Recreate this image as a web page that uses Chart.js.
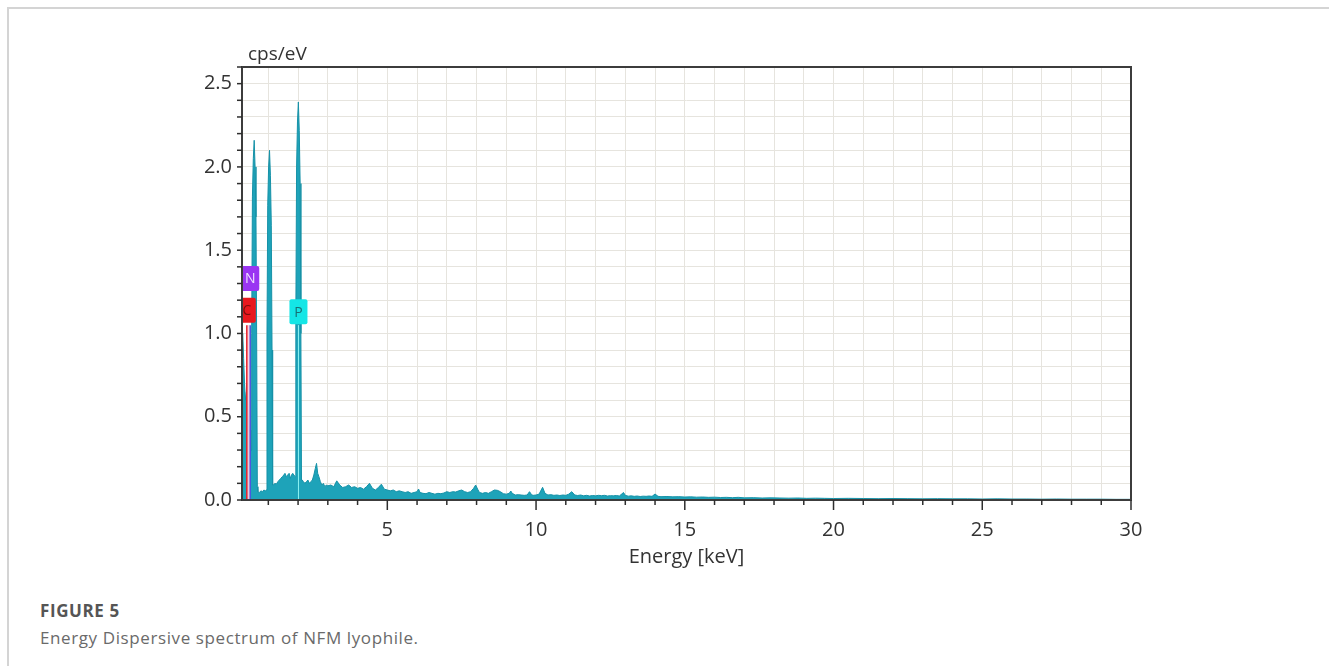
<!DOCTYPE html>
<html>
<head>
<meta charset="utf-8">
<title>Energy Dispersive spectrum of NFM lyophile</title>
<script src="https://cdn.jsdelivr.net/npm/chart.js@4.4.0/dist/chart.umd.min.js"></script>
<style>
  html, body { margin: 0; padding: 0; background: #fff; }
  body { width: 1329px; height: 666px; position: relative; overflow: hidden; font-family: 'Open Sans', sans-serif; }
  .frame { position: absolute; left: 7px; top: 7px; right: 0; bottom: 0; border-top: 2px solid #d4d4d4; border-left: 2px solid #d4d4d4; }
  #chart-box { position: absolute; left: 0; top: 0; width: 1329px; height: 580px; }
  .caption { position: absolute; left: 40px; top: 597px; color: #6a6a6a; font-size: 17px; letter-spacing: 0.6px; line-height: 27px; }
  .caption b { display: block; color: #555; font-weight: 700; }
</style>
</head>
<body>
<div class="frame"></div>
<div id="chart-box"><canvas id="eds-chart" width="1329" height="580"></canvas></div>
<div class="caption"><b>FIGURE 5</b>Energy Dispersive spectrum of NFM lyophile.</div>

<script>
// Spectrum (energy in keV, counts in cps/eV)
const energy = [
    0.11, 0.14, 0.17, 0.20, 0.23, 0.26, 0.28, 0.31, 0.34, 0.37, 0.39, 0.41,
    0.42, 0.44, 0.465, 0.495, 0.525, 0.555, 0.585, 0.61, 0.63,
    0.65, 0.70, 0.75, 0.80, 0.85, 0.90, 0.935,
    0.955, 0.98, 1.01, 1.04, 1.07, 1.10, 1.125, 1.145,
    1.17, 1.22, 1.27, 1.32, 1.37, 1.42, 1.47, 1.52, 1.56, 1.60, 1.65, 1.70, 1.74, 1.78, 1.82, 1.86, 1.905,
    1.925, 1.95, 1.98, 2.01, 2.04, 2.07, 2.095, 2.115,
    2.14, 2.18, 2.23, 2.28, 2.33, 2.38, 2.43, 2.48, 2.53, 2.58, 2.62, 2.66, 2.70, 2.75, 2.80, 2.85, 2.90, 2.95,
    3.0, 3.1, 3.2, 3.3, 3.4, 3.5, 3.6, 3.7, 3.8, 3.9, 4.0, 4.1, 4.2, 4.3, 4.4, 4.5, 4.6, 4.7, 4.8, 4.9,
    5.0, 5.1, 5.2, 5.3, 5.4, 5.5, 5.6, 5.7, 5.8, 5.9,
    6.0, 6.05, 6.1, 6.2, 6.3, 6.4, 6.5, 6.6, 6.7, 6.8, 6.9,
    7.0, 7.1, 7.2, 7.3, 7.4, 7.5, 7.6, 7.7, 7.8, 7.9, 7.97, 8.05,
    8.1, 8.2, 8.3, 8.4, 8.5, 8.6, 8.7, 8.8, 8.9, 9.0, 9.1, 9.15, 9.2, 9.3, 9.4, 9.5, 9.6, 9.7, 9.78, 9.85, 9.9,
    10.0, 10.1, 10.22, 10.3, 10.4, 10.5, 10.6, 10.7, 10.8, 10.9,
    11.0, 11.1, 11.2, 11.3, 11.4, 11.5, 11.6, 11.7, 11.8, 11.9,
    12.0, 12.1, 12.2, 12.3, 12.4, 12.5, 12.6, 12.7, 12.8, 12.94,
    13.0, 13.1, 13.2, 13.3, 13.4, 13.5, 13.6, 13.7, 13.8, 13.9,
    14.0, 14.1, 14.2, 14.4, 14.6, 14.8, 15.0, 15.2, 15.4, 15.6, 15.8,
    16.0, 16.2, 16.4, 16.6, 16.8, 17.0, 17.3, 17.6, 17.9, 18.2, 18.5, 18.8, 19.1, 19.4, 19.7,
    20.0, 20.5, 21.0, 21.5, 22.0, 22.5, 23.0, 23.5, 24.0, 24.5,
    25.0, 25.5, 26.0, 26.5, 27.0, 27.5, 28.0, 28.5, 29.0, 29.5, 30.0
];
const cps = [
    0.95, 1.00, 0.85, 0.70, 0.60, 0.65, 0.70, 0.55, 0.45, 0.40, 0.42, 0.30,
    0.30, 1.00, 1.82, 2.05, 2.16, 2.00, 1.70, 0.90, 0.08,
    0.05, 0.045, 0.055, 0.05, 0.06, 0.055, 0.06,
    1.00, 1.77, 2.00, 2.10, 1.95, 1.65, 0.90, 0.09,
    0.09, 0.10, 0.095, 0.11, 0.12, 0.13, 0.14, 0.15, 0.16, 0.14, 0.15, 0.16, 0.13, 0.15, 0.16, 0.15, 0.14,
    1.10, 2.00, 2.27, 2.39, 2.22, 1.90, 1.00, 0.12,
    0.12, 0.11, 0.10, 0.11, 0.12, 0.10, 0.11, 0.12, 0.15, 0.19, 0.22, 0.16, 0.14, 0.11, 0.09, 0.10, 0.08, 0.09,
    0.085, 0.09, 0.08, 0.115, 0.09, 0.075, 0.08, 0.09, 0.075, 0.08, 0.07, 0.075, 0.065, 0.08, 0.10, 0.07, 0.06, 0.075, 0.095, 0.065,
    0.06, 0.055, 0.06, 0.05, 0.055, 0.05, 0.045, 0.05, 0.04, 0.045,
    0.05, 0.066, 0.045, 0.04, 0.038, 0.045, 0.04, 0.035, 0.04, 0.038, 0.042,
    0.05, 0.045, 0.05, 0.048, 0.055, 0.06, 0.05, 0.045, 0.05, 0.07, 0.09, 0.06,
    0.045, 0.04, 0.045, 0.04, 0.05, 0.06, 0.058, 0.05, 0.038, 0.035, 0.04, 0.054, 0.04, 0.03, 0.032, 0.03, 0.028, 0.03, 0.05, 0.032, 0.028,
    0.03, 0.035, 0.076, 0.04, 0.03, 0.032, 0.028, 0.03, 0.027, 0.03,
    0.028, 0.035, 0.05, 0.03, 0.027, 0.03, 0.025, 0.028, 0.024, 0.027,
    0.025, 0.028, 0.026, 0.028, 0.024, 0.026, 0.025, 0.027, 0.024, 0.045,
    0.028, 0.023, 0.025, 0.022, 0.024, 0.021, 0.023, 0.022, 0.024, 0.022,
    0.036, 0.022, 0.02, 0.021, 0.019, 0.02, 0.018, 0.019, 0.017, 0.018, 0.016,
    0.017, 0.015, 0.016, 0.014, 0.016, 0.013, 0.014, 0.012, 0.013, 0.012, 0.011, 0.012, 0.01, 0.011, 0.01,
    0.009, 0.01, 0.009, 0.008, 0.009, 0.008, 0.007, 0.008, 0.007, 0.007,
    0.006, 0.007, 0.006, 0.006, 0.005, 0.006, 0.005, 0.005, 0.005, 0.004, 0.004
];

// Axis labels
const xMajorTicks = [5, 10, 15, 20, 25, 30];
const yTickLabels = ['0.0', '0.5', '1.0', '1.5', '2.0', '2.5'];

// Element markers
const elementNames = ['C', 'N', 'P'];
const elementEnergy = [0.277, 0.392, 2.013];

// look of the marker boxes (level = box centre, in cps/eV)
const markerLook = {
    C: { fill: '#e8181e', text: '#7d0c0c', line: '#e8202a', level: 1.14 },
    N: { fill: '#9a35f2', text: '#efe2ff', line: '#4a55e0', level: 1.33 },
    P: { fill: '#14e6e6', text: '#176f74', line: '#8ff3f3', level: 1.13 }
};
const markerTop = 1.05;

const edsPlugin = {
    id: 'edsDecor',
    afterDatasetsDraw(chart) {
        const { ctx, chartArea } = chart;
        const x = chart.scales.x, y = chart.scales.y;
        const y0 = y.getPixelForValue(0);
        const yTop = y.getPixelForValue(markerTop);

        ctx.save();
        ctx.beginPath();
        ctx.rect(chartArea.left, chartArea.top, chartArea.right - chartArea.left, chartArea.bottom - chartArea.top);
        ctx.clip();

        // pink band between the C and N marker lines
        const xc = x.getPixelForValue(elementEnergy[0]);
        const xn = x.getPixelForValue(elementEnergy[1]);
        ctx.fillStyle = 'rgba(248, 206, 222, 0.92)';
        ctx.fillRect(xc, yTop, xn - xc, y0 - yTop);

        elementNames.forEach((name, i) => {
            const look = markerLook[name];
            const px = x.getPixelForValue(elementEnergy[i]);
            ctx.strokeStyle = look.line;
            ctx.lineWidth = name === 'P' ? 1 : 1.5;
            ctx.beginPath();
            ctx.moveTo(px, y0);
            ctx.lineTo(px, yTop);
            ctx.stroke();
        });

        // label boxes
        elementNames.forEach((name, i) => {
            const look = markerLook[name];
            const px = x.getPixelForValue(elementEnergy[i]);
            const py = y.getPixelForValue(look.level);
            const w = 18, h = 25;
            ctx.fillStyle = look.fill;
            ctx.beginPath();
            ctx.roundRect(px - w / 2, py - h / 2, w, h, 2);
            ctx.fill();
            ctx.fillStyle = look.text;
            ctx.font = "14px 'Open Sans', sans-serif";
            ctx.textAlign = 'center';
            ctx.textBaseline = 'middle';
            ctx.fillText(name, px, py + 1);
        });
        ctx.restore();
    },
    afterDraw(chart) {
        const { ctx, chartArea } = chart;
        const x = chart.scales.x, y = chart.scales.y;
        ctx.save();

        // frame
        ctx.strokeStyle = '#3c3c3c';
        ctx.lineWidth = 2;
        ctx.strokeRect(chartArea.left, chartArea.top, chartArea.right - chartArea.left, chartArea.bottom - chartArea.top);

        // tick marks, outside
        ctx.lineWidth = 1.5;
        ctx.strokeStyle = '#2e2e2e';
        x.ticks.forEach(t => {
            const px = x.getPixelForValue(t.value);
            const len = xMajorTicks.includes(t.value) ? 10 : 5;
            ctx.beginPath();
            ctx.moveTo(px, chartArea.bottom);
            ctx.lineTo(px, chartArea.bottom + len);
            ctx.stroke();
        });
        y.ticks.forEach(t => {
            const py = y.getPixelForValue(t.value);
            ctx.beginPath();
            ctx.moveTo(chartArea.left - 5, py);
            ctx.lineTo(chartArea.left, py);
            ctx.stroke();
        });

        // unit above the y axis
        ctx.fillStyle = '#333';
        ctx.font = "19px 'Open Sans', sans-serif";
        ctx.textAlign = 'left';
        ctx.textBaseline = 'alphabetic';
        ctx.fillText('cps/eV', chartArea.left + 6, chartArea.top - 7);
        ctx.restore();
    }
};

const points = energy.map((e, i) => ({ x: e, y: cps[i] }));

window.addEventListener('load', () => {
    const ctx = document.getElementById('eds-chart').getContext('2d');

    new Chart(ctx, {
        type: 'line',
        data: {
            datasets: [{
                data: points,
                borderColor: '#1691a7',
                backgroundColor: '#1ea3b9',
                borderWidth: 1,
                fill: 'origin',
                pointRadius: 0,
                tension: 0
            }]
        },
        options: {
            responsive: false,
            animation: false,
            layout: { padding: { left: 172, right: 198, top: 67, bottom: 5 } },
            plugins: { legend: { display: false }, tooltip: { enabled: false } },
            scales: {
                x: {
                    type: 'linear',
                    min: 0.115,
                    max: 30,
                    afterBuildTicks: scale => {
                        const t = [];
                        for (let v = 1; v <= 30; v++) t.push({ value: v });
                        scale.ticks = t;
                    },
                    afterFit: scale => { scale.height = 75; },
                    grid: { color: '#e6e4de', lineWidth: 1, drawTicks: false },
                    border: { display: false },
                    ticks: {
                        autoSkip: false,
                        maxRotation: 0,
                        padding: 18,
                        color: '#333',
                        font: { family: "'Open Sans', sans-serif", size: 20 },
                        callback: v => xMajorTicks.includes(v) ? String(v) : ''
                    },
                    title: {
                        display: true,
                        text: 'Energy [keV]',
                        color: '#333',
                        font: { family: "'Open Sans', sans-serif", size: 20 },
                        padding: { top: 0, bottom: 6 }
                    }
                },
                y: {
                    min: 0,
                    max: 2.6,
                    afterBuildTicks: scale => {
                        const t = [];
                        for (let k = 0; k <= 26; k++) t.push({ value: k / 10 });
                        scale.ticks = t;
                    },
                    afterFit: scale => { scale.width = 70; },
                    grid: { color: '#e6e4de', lineWidth: 1, drawTicks: false },
                    border: { display: false },
                    ticks: {
                        autoSkip: false,
                        padding: 10,
                        color: '#333',
                        font: { family: "'Open Sans', sans-serif", size: 20 },
                        callback: v => {
                            const k = Math.round(v * 10);
                            return k % 5 === 0 ? yTickLabels[k / 5] : '';
                        }
                    }
                }
            }
        },
        plugins: [edsPlugin]
    });
});
</script>
</body>
</html>
